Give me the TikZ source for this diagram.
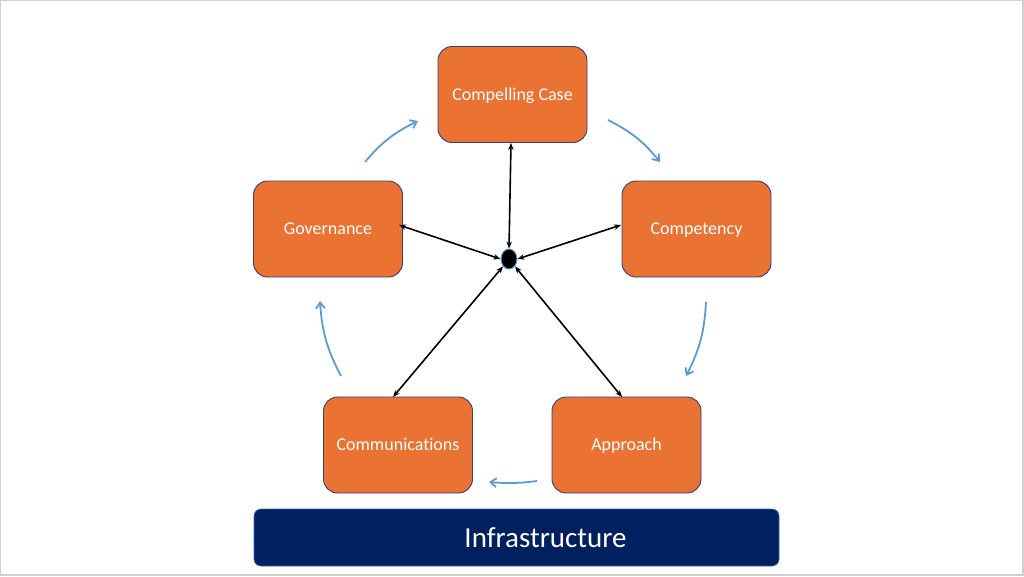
\documentclass[tikz,border=0pt]{standalone}
\usepackage{fontspec}
\setmainfont[Ligatures=NoCommon]{Carlito}
\usetikzlibrary{arrows.meta,shapes.geometric}
\definecolor{boxorange}{HTML}{EA7232}
\definecolor{boxline}{HTML}{2F3F78}
\definecolor{navy}{HTML}{002060}
\definecolor{cyclblue}{HTML}{5B9BD5}
\definecolor{framegray}{HTML}{D0D0D0}
\tikzset{
  stagebox/.style={draw=boxline, line width=0.9pt, fill=boxorange, rounded corners=14pt,
    minimum width=149pt, minimum height=96pt, inner sep=0pt, text=white,
    text height=12pt, text depth=1pt,
    font=\fontsize{18}{20}\selectfont},
  spoke/.style={black, line width=1.6pt, {Stealth[length=7pt,width=5.5pt]}-{Stealth[length=7pt,width=5.5pt]}},
  cycle/.style={cyclblue, line width=1.8pt, -{Straight Barb[length=6pt,width=9pt]}},
}
\begin{document}
\begin{tikzpicture}[x=1pt,y=-1pt]
\useasboundingbox (0,0) rectangle (1024,576);
\draw[framegray, line width=1.2pt] (0.6,0.6) rectangle (1023,575);

\node[stagebox] (cc) at (512.5,94.5) {Compelling Case};
\node[stagebox] (gov) at (328,229) {Governance};
\node[stagebox] (comp) at (696.5,229) {Competency};
\node[stagebox] (comm) at (398,445) {Communications};
\node[stagebox] (appr) at (626.5,445) {Approach};

\node[draw=cyclblue!60!navy, line width=0.6pt, fill=navy, rounded corners=7pt, minimum width=525pt, minimum height=57pt, inner sep=0pt] (infra) at (516.5,537.5) {};
\node[text=white, font=\fontsize{29}{32}\selectfont, inner sep=0pt] (infratext) at (545.5,537.5) {Infrastructure};

\node[draw=cyclblue, line width=1pt, fill=black, ellipse, minimum width=16pt, minimum height=20pt, inner sep=0pt] (hub) at (509,259) {};

\coordinate (eCC) at (511,143);
\coordinate (eGov) at (399,225);
\coordinate (eComp) at (621,225);
\coordinate (eComm) at (393,397);
\coordinate (eAppr) at (622,397);
\draw[spoke] (hub.north) -- (eCC);
\draw[spoke] (hub.west) -- (eGov);
\draw[spoke] (hub.east) -- (eComp);
\draw[spoke] (hub.south west) -- (eComm);
\draw[spoke] (hub.south east) -- (eAppr);

\coordinate (a1s) at (365,162); \coordinate (a1e) at (418,121);
\coordinate (a2s) at (608,120); \coordinate (a2e) at (660,162);
\coordinate (a3s) at (706,302); \coordinate (a3e) at (686,376);
\coordinate (a4s) at (537,481); \coordinate (a4e) at (489,482);
\coordinate (a5s) at (341,376); \coordinate (a5e) at (320,301);
\draw[cycle] (a1s) to[bend left=12] (a1e);
\draw[cycle] (a2s) to[bend left=12] (a2e);
\draw[cycle] (a3s) to[bend left=12] (a3e);
\draw[cycle] (a4s) to[bend left=6] (a4e);
\draw[cycle] (a5s) to[bend left=12] (a5e);
\end{tikzpicture}
\end{document}
